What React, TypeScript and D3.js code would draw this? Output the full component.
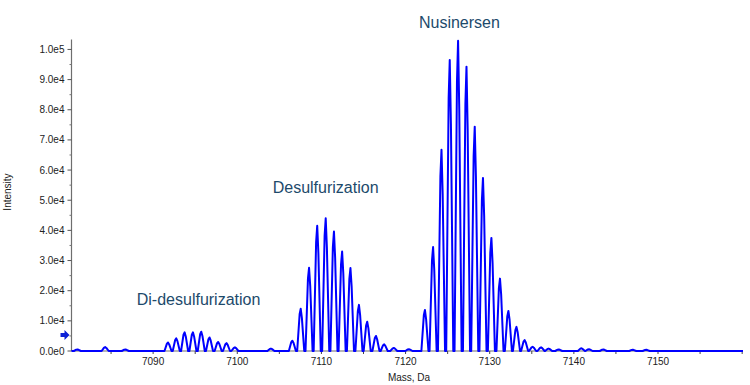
import React, { useEffect, useRef } from 'react';
import * as d3 from 'd3';

// peak apexes (mass in Da, intensity in counts)
const nusinersenMass = [7122.3, 7123.27, 7124.27, 7125.25, 7126.24, 7127.24, 7128.22, 7129.2, 7130.2, 7131.22, 7132.22, 7133.18, 7134.15, 7135.1, 7136.1, 7137.0];
const nusinersenIntensity = [13600, 34500, 66700, 96500, 102900, 94300, 74400, 57400, 37500, 24000, 13300, 8000, 3600, 1400, 1200, 800];

const desulfMass = [7106.55, 7107.54, 7108.53, 7109.5, 7110.51, 7111.49, 7112.46, 7113.45, 7114.46, 7115.44, 7116.48, 7117.46];
const desulfIntensity = [3400, 14000, 27600, 41500, 44000, 39600, 33000, 27500, 15300, 9700, 5000, 2200];

const didesulfMass = [7091.77, 7092.75, 7093.74, 7094.73, 7095.72, 7096.7, 7097.73, 7098.72, 7099.72];
const didesulfIntensity = [2800, 4200, 6200, 6200, 6400, 4500, 3000, 2600, 1200];

const noiseMass = [7081.0, 7084.3, 7086.7, 7104.0, 7118.6, 7120.4, 7138.2, 7140.9, 7141.8, 7143.5, 7147.0, 7148.6];
const noiseIntensity = [500, 1300, 500, 800, 1000, 600, 500, 900, 600, 500, 400, 400];

const yTicks = [0, 10000, 20000, 30000, 40000, 50000, 60000, 70000, 80000, 90000, 100000];
const yMinorTicks = [5000, 15000, 25000, 35000, 45000, 55000, 65000, 75000, 85000, 95000];
const xTicks = [7090, 7100, 7110, 7120, 7130, 7140, 7150];
const xMinorTicks = [7085, 7095, 7105, 7115, 7125, 7135, 7145, 7155, 7160];

const labels = [
  { text: 'Nusinersen', mass: 7126.4, value: 107000 },
  { text: 'Desulfurization', mass: 7110.5, value: 52500 },
  { text: 'Di-desulfurization', mass: 7095.4, value: 15200 },
];

function App() {
  const chart = useRef<SVGSVGElement>(null);

  useEffect(() => {
    const svg = d3.select(chart.current);
    svg.selectAll('*').remove();

    const x = d3.scaleLinear().domain([7080.3, 7160.1]).range([71.5, 743]);
    const y = d3.scaleLinear().domain([0, 103300]).range([351, 39.5]);
    const font = "'Liberation Sans', Arial, sans-serif";

    // build a profile trace from the peak list
    const peaks: [number, number][] = [];
    const add = (m: number[], v: number[]) => m.forEach((d, i) => peaks.push([d, v[i]]));
    add(nusinersenMass, nusinersenIntensity);
    add(desulfMass, desulfIntensity);
    add(didesulfMass, didesulfIntensity);
    add(noiseMass, noiseIntensity);
    peaks.sort((a, b) => a[0] - b[0]);

    const trace: [number, number][] = [[7080.3, 0]];
    peaks.forEach(([m, h]) => {
      trace.push([m - 0.42, 0], [m - 0.13, h * 0.87], [m, h], [m + 0.14, h * 0.78], [m + 0.42, 0]);
    });
    trace.push([7160.1, 0]);

    // axes
    const g = svg.append('g');
    g.append('line')
      .attr('x1', x.range()[0]).attr('x2', x.range()[0])
      .attr('y1', y.range()[0]).attr('y2', y.range()[1])
      .attr('stroke', '#6e6e6e').attr('stroke-width', 1.2);
    g.append('line')
      .attr('x1', x.range()[0]).attr('x2', x.range()[1])
      .attr('y1', y(0)).attr('y2', y(0))
      .attr('stroke', '#6e6e6e').attr('stroke-width', 1.2);

    g.selectAll('.ymaj').data(yTicks).join('line')
      .attr('x1', x.range()[0] - 4).attr('x2', x.range()[0])
      .attr('y1', d => y(d)).attr('y2', d => y(d))
      .attr('stroke', '#555');
    g.selectAll('.ymin').data(yMinorTicks).join('line')
      .attr('x1', x.range()[0] - 2).attr('x2', x.range()[0])
      .attr('y1', d => y(d)).attr('y2', d => y(d))
      .attr('stroke', '#777');
    g.selectAll('.ylab').data(yTicks).join('text')
      .attr('x', x.range()[0] - 7).attr('y', d => y(d))
      .attr('dy', '0.35em')
      .attr('text-anchor', 'end')
      .style('font-family', font).style('font-size', '10px').attr('fill', '#222')
      .text(d => d3.format('.1e')(d).replace('+', ''));

    g.selectAll('.xmaj').data(xTicks.concat(xMinorTicks)).join('line')
      .attr('x1', d => x(d)).attr('x2', d => x(d))
      .attr('y1', y(0)).attr('y2', y(0) + 3)
      .attr('stroke', '#444');
    g.selectAll('.xlab').data(xTicks).join('text')
      .attr('x', d => x(d)).attr('y', y(0) + 14)
      .attr('text-anchor', 'middle')
      .style('font-family', font).style('font-size', '10px').attr('fill', '#222')
      .text(d => d);

    svg.append('text')
      .attr('x', 409).attr('y', 381)
      .attr('text-anchor', 'middle')
      .style('font-family', font).style('font-size', '10px').attr('fill', '#222')
      .text('Mass, Da');
    svg.append('text')
      .attr('transform', 'translate(11,192) rotate(-90)')
      .attr('text-anchor', 'middle')
      .style('font-family', font).style('font-size', '10px').attr('fill', '#222')
      .text('Intensity');

    // threshold marker
    const ay = y(5300);
    const ax = x.range()[0] - 11;
    svg.append('path')
      .attr('d', `M${ax},${ay - 2} L${ax + 4},${ay - 2} L${ax + 4},${ay - 5} L${ax + 9},${ay} L${ax + 4},${ay + 5} L${ax + 4},${ay + 2} L${ax},${ay + 2} Z`)
      .attr('fill', '#0a1fd6');

    // spectrum
    const line = d3.line<[number, number]>().x(d => x(d[0])).y(d => y(d[1]));
    svg.append('path')
      .datum(trace)
      .attr('d', line)
      .attr('fill', 'none')
      .attr('stroke', '#0000ff')
      .attr('stroke-width', 2)
      .attr('stroke-linejoin', 'round');

    // annotations
    svg.selectAll('.ann').data(labels).join('text')
      .attr('x', d => x(d.mass)).attr('y', d => y(d.value))
      .attr('text-anchor', 'middle')
      .style('font-family', font).style('font-size', '16px').attr('fill', '#1d4a6b')
      .text(d => d.text);
  }, []);

  return (
    <div>
      <svg ref={chart} width={750} height={385} style={{ position: 'absolute', left: 0, top: 0, background: '#fff' }}></svg>
    </div>
  );
}

export default App;
